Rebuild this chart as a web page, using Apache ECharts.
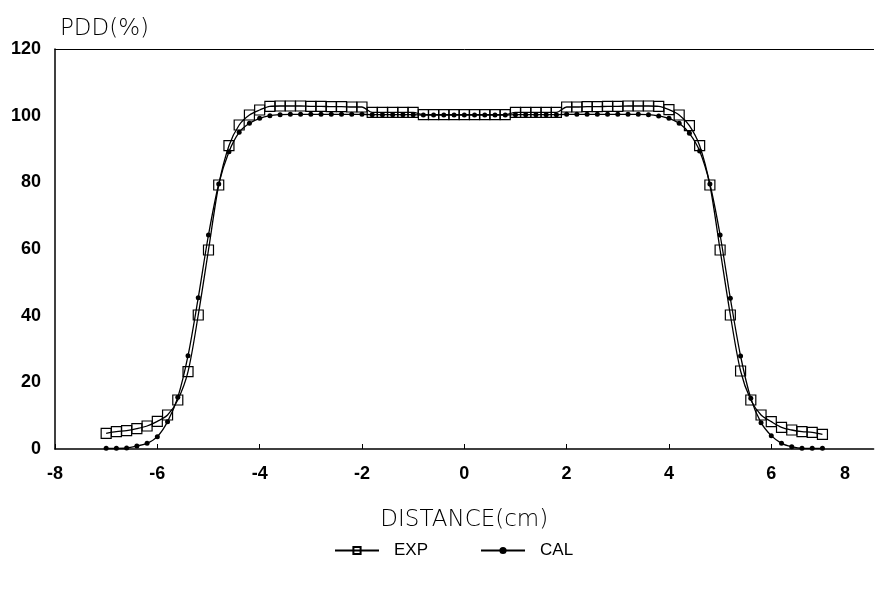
<!DOCTYPE html>
<html>
<head>
<meta charset="utf-8">
<script src="https://cdn.jsdelivr.net/npm/echarts@6/dist/echarts.min.js"></script>
<style>html,body{margin:0;padding:0;background:#fff;}#c{width:882px;height:595px;}</style>
</head>
<body>
<div id="c"></div>
<script>
const distance = [-7.0,-6.8,-6.6,-6.4,-6.2,-6.0,-5.8,-5.6,-5.4,-5.2,-5.0,-4.8,-4.6,-4.4,-4.2,-4.0,-3.8,-3.6,-3.4,-3.2,-3.0,-2.8,-2.6,-2.4,-2.2,-2.0,-1.8,-1.6,-1.4,-1.2,-1.0,-0.8,-0.6,-0.4,-0.2,0.0,0.2,0.4,0.6,0.8,1.0,1.2,1.4,1.6,1.8,2.0,2.2,2.4,2.6,2.8,3.0,3.2,3.4,3.6,3.8,4.0,4.2,4.4,4.6,4.8,5.0,5.2,5.4,5.6,5.8,6.0,6.2,6.4,6.6,6.8,7.0];
const expValues = [4.7,5.2,5.5,6.1,6.9,8.3,10.2,14.7,23.2,40.2,59.7,79.2,91.0,97.2,100.2,101.7,102.8,102.9,102.9,102.9,102.8,102.8,102.7,102.7,102.6,102.6,101.0,101.0,101.0,101.0,101.0,100.3,100.3,100.3,100.3,100.3,100.3,100.3,100.3,100.3,101.0,101.0,101.0,101.0,101.0,102.6,102.6,102.7,102.7,102.8,102.8,102.9,102.9,102.9,102.8,101.8,100.2,97.0,91.0,79.2,59.7,40.2,23.4,14.7,10.2,8.2,6.5,5.7,5.2,5.0,4.4];
const calValues = [0.2,0.2,0.3,0.9,1.7,3.7,8.2,15.5,28.0,45.4,64.2,79.5,89.2,95.0,97.7,99.2,100.0,100.3,100.4,100.4,100.4,100.4,100.4,100.4,100.4,100.4,100.3,100.3,100.3,100.3,100.3,100.2,100.2,100.2,100.2,100.2,100.2,100.2,100.2,100.2,100.3,100.3,100.3,100.3,100.3,100.4,100.4,100.4,100.4,100.4,100.4,100.4,100.4,100.3,99.9,99.2,97.7,94.7,89.4,79.5,64.2,45.2,27.9,15.2,7.9,4.0,1.7,0.7,0.2,0.2,0.2];
const xTicks = [-8,-6,-4,-2,0,2,4,6,8];
const yTicks = [0,20,40,60,80,100,120];
const seriesNames = ['EXP','CAL'];
const xTitle = 'DISTANCE(cm)';
const yTitle = 'PDD(%)';

const chart = echarts.init(document.getElementById('c'), null, {renderer:'canvas'});
const font = 'Liberation Sans, Arial, sans-serif';
const thin = 'DejaVu Sans, sans-serif';
const grid = {left:55, right:8.4, top:49, bottom:146};
chart.setOption({
  animation:false,
  backgroundColor:'#fff',
  grid: grid,
  legend: {
    data: seriesNames,
    bottom: 31,
    left: 329,
    itemGap: 52,
    itemWidth: 44,
    itemHeight: 9,
    textStyle: {fontFamily: font, fontSize: 17, color:'#000', padding:[0,0,0,10]}
  },
  xAxis: [{
    type:'value', min:xTicks[0], max:xTicks[xTicks.length-1], interval:2,
    axisLine:{show:true, onZero:false, lineStyle:{color:'#000', width:1.5}},
    axisTick:{show:true, inside:true, length:5, lineStyle:{color:'#000'}},
    splitLine:{show:false},
    axisLabel:{show:true, margin:16, color:'#000', fontFamily:font, fontWeight:'bold', fontSize:18, showMaxLabel:false},
    name: xTitle, nameLocation:'middle', nameGap:60,
    nameTextStyle:{fontFamily:thin, fontWeight:200, fontSize:23, color:'#000'}
  },{
    type:'value', position:'top', min:xTicks[0], max:xTicks[xTicks.length-1],
    axisLine:{show:true, onZero:false, lineStyle:{color:'#000', width:1}},
    axisTick:{show:false}, axisLabel:{show:false}, splitLine:{show:false}
  }],
  yAxis: {
    type:'value', min:yTicks[0], max:yTicks[yTicks.length-1], interval:20,
    axisLine:{show:true, onZero:false, lineStyle:{color:'#000', width:1.5}},
    axisTick:{show:false},
    splitLine:{show:false},
    axisLabel:{margin:14, color:'#000', fontFamily:font, fontWeight:'bold', fontSize:18},
    name: yTitle, nameLocation:'end', nameGap:8,
    nameTextStyle:{fontFamily:thin, fontWeight:200, fontSize:23, color:'#000', align:'left', padding:[0,0,0,5]}
  },
  graphic: [{
    type:'text', left: 840, top: 465,
    style:{text:String(xTicks[xTicks.length-1]), fontFamily:font, fontWeight:'bold', fontSize:18, fill:'#000'}
  }],
  series: [{
    name: seriesNames[0], type:'line', smooth:0.3,
    data: distance.map((d,i)=>[d, expValues[i]]),
    symbol:'rect', symbolSize:10, showAllSymbol:true,
    lineStyle:{color:'#000', width:1.3},
    itemStyle:{color:'rgba(255,255,255,0)', borderColor:'#000', borderWidth:1.2},
    z:2
  },{
    name: seriesNames[1], type:'line', smooth:0.3,
    data: distance.map((d,i)=>[d, calValues[i]]),
    symbol:'circle', symbolSize:5, showAllSymbol:true,
    lineStyle:{color:'#000', width:1.3},
    itemStyle:{color:'#000', borderColor:'#000', borderWidth:0},
    z:3
  }]
});
</script>
</body>
</html>
